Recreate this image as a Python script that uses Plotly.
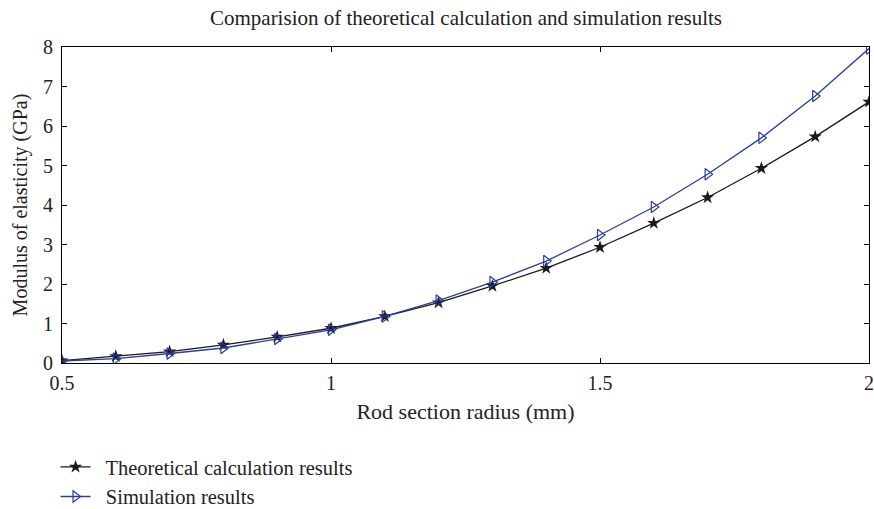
import plotly.graph_objects as go

radius = [0.5, 0.6, 0.7, 0.8, 0.9, 1.0, 1.1, 1.2, 1.3, 1.4, 1.5, 1.6, 1.7, 1.8, 1.9, 2.0]
theoretical = [0.06, 0.17, 0.29, 0.46, 0.66, 0.88, 1.18, 1.53, 1.95, 2.40, 2.93, 3.54, 4.19, 4.93, 5.73, 6.61]
simulation = [0.05, 0.11, 0.24, 0.38, 0.61, 0.84, 1.18, 1.58, 2.05, 2.58, 3.24, 3.95, 4.78, 5.70, 6.76, 7.96]
x_ticks = [0.5, 1, 1.5, 2]
x_ticktext = ["0.5", "1", "1.5", "2"]

FONT = "Liberation Serif"
BLUE = "#2c3d9e"
TXT = "#222"

fig = go.Figure()
fig.add_trace(go.Scatter(
    x=radius, y=theoretical, mode="lines+markers",
    name="  Theoretical calculation results",
    line=dict(color="#1a1a1a", width=1.3),
    marker=dict(symbol="star", size=10, color="#1a1a1a"),
))
fig.add_trace(go.Scatter(
    x=radius, y=simulation, mode="lines+markers",
    name="  Simulation results",
    line=dict(color=BLUE, width=1.3),
    marker=dict(symbol="triangle-right-open", size=10, color=BLUE, line=dict(width=1.2)),
))

axis_common = dict(
    showline=True, linecolor="black", linewidth=1, mirror="ticks",
    ticks="inside", ticklen=5, tickcolor="black", tickwidth=1,
    showgrid=False, zeroline=False,
    tickfont=dict(family=FONT, size=20, color=TXT),
)

fig.update_layout(
    width=874, height=509,
    margin=dict(l=62, r=5, t=47, b=146, autoexpand=False),
    paper_bgcolor="white", plot_bgcolor="white",
    title=dict(text="Comparision of theoretical calculation and simulation results",
               x=466 / 874, xanchor="center", y=1 - 18 / 509, yanchor="middle",
               font=dict(family=FONT, size=21, color=TXT)),
    xaxis=dict(range=[0.5, 2.0], tickvals=x_ticks, ticktext=x_ticktext,
               ticklabelstandoff=2,
               title=dict(text="Rod section radius (mm)", font=dict(family=FONT, size=22, color=TXT), standoff=10),
               **axis_common),
    yaxis=dict(range=[0, 8], dtick=1, ticklabelstandoff=4,
               title=dict(text="Modulus of elasticity (GPa)", font=dict(family=FONT, size=20, color=TXT), standoff=10),
               **axis_common),
    legend=dict(x=-0.008, xanchor="left", yref="container", y=(509 - 447) / 509, yanchor="top",
                orientation="v",
                font=dict(family=FONT, size=20.5, color=TXT), tracegroupgap=0,
                itemwidth=30, bgcolor="rgba(0,0,0,0)"),
    showlegend=True,
)

fig.write_html("out.html")
